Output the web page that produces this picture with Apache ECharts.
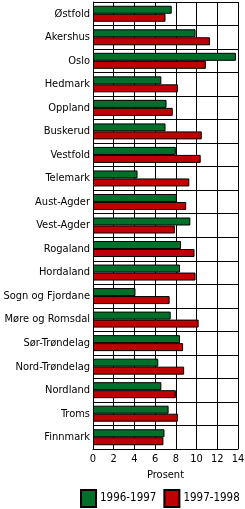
<!DOCTYPE html>
<html lang="no">
<head>
    <meta charset="UTF-8">
    <title>Prosent per fylke</title>
    <script src="https://cdn.jsdelivr.net/npm/echarts@6.0.0/dist/echarts.min.js"></script>
    <style>
        html, body { margin: 0; padding: 0; background: #fff; }
    </style>
</head>
<body>
    <div id="chart" style="width: 245px; height: 509px;"></div>
    <script>
        // fylker, fra toppen og ned
        const fylker = ['Østfold', 'Akershus', 'Oslo', 'Hedmark', 'Oppland', 'Buskerud', 'Vestfold',
            'Telemark', 'Aust-Agder', 'Vest-Agder', 'Rogaland', 'Hordaland', 'Sogn og Fjordane',
            'Møre og Romsdal', 'Sør-Trøndelag', 'Nord-Trøndelag', 'Nordland', 'Troms', 'Finnmark'];

        const verdier9697 = [7.6, 9.9, 13.8, 6.6, 7.1, 7.0, 8.0, 4.3, 8.1, 9.4, 8.5, 8.4, 4.1,
            7.5, 8.4, 6.3, 6.6, 7.3, 6.9];
        const verdier9798 = [7.0, 11.3, 10.9, 8.2, 7.7, 10.5, 10.4, 9.3, 9.0, 7.9, 9.8, 9.9, 7.4,
            10.2, 8.7, 8.8, 8.0, 8.2, 6.8];

        const xTicks = [0, 2, 4, 6, 8, 10, 12, 14];

        var myChart = echarts.init(document.getElementById('chart'));

        const font = 'DejaVu Sans Condensed';

        const option = {
            animation: false,
            grid: { left: 93, right: 7, top: 2, bottom: 60, containLabel: false, outerBoundsMode: 'none' },
            legend: {
                orient: 'horizontal',
                bottom: 1,
                left: 80,
                width: 200,
                padding: 0,
                icon: 'rect',
                itemWidth: 15,
                itemHeight: 17,
                itemGap: 7,
                textStyle: { fontFamily: font, fontSize: 11.5, color: '#000', padding: [0, 0, 0, -1] },
                data: ['1996-1997', '1997-1998']
            },
            xAxis: {
                type: 'value',
                min: xTicks[0],
                max: xTicks[xTicks.length - 1],
                interval: 2,
                name: 'Prosent',
                nameLocation: 'middle',
                nameGap: 21,
                nameTextStyle: { fontFamily: font, fontSize: 11, color: '#000' },
                axisLine: { show: true, lineStyle: { color: '#000', width: 1 } },
                axisTick: { show: false },
                axisLabel: { fontFamily: font, fontSize: 11, color: '#000', margin: 5 },
                splitLine: { show: true, lineStyle: { color: '#000', width: 1 } }
            },
            yAxis: {
                type: 'category',
                data: fylker,
                inverse: true,
                axisLine: { show: true, lineStyle: { color: '#000', width: 1 } },
                axisTick: { show: false },
                axisLabel: { fontFamily: font, fontSize: 11, color: '#000', margin: 3 },
                splitLine: { show: true, lineStyle: { color: '#000', width: 1 } }
            },
            series: [
                {
                    name: '1996-1997',
                    type: 'bar',
                    data: verdier9697,
                    barWidth: 8,
                    barGap: '0%',
                    itemStyle: { color: '#006f2a', borderColor: '#000', borderWidth: 1 }
                },
                {
                    name: '1997-1998',
                    type: 'bar',
                    data: verdier9798,
                    barWidth: 8,
                    barGap: '0%',
                    itemStyle: { color: '#c00000', borderColor: '#000', borderWidth: 1 }
                }
            ]
        };

        myChart.setOption(option);
    </script>
</body>
</html>
